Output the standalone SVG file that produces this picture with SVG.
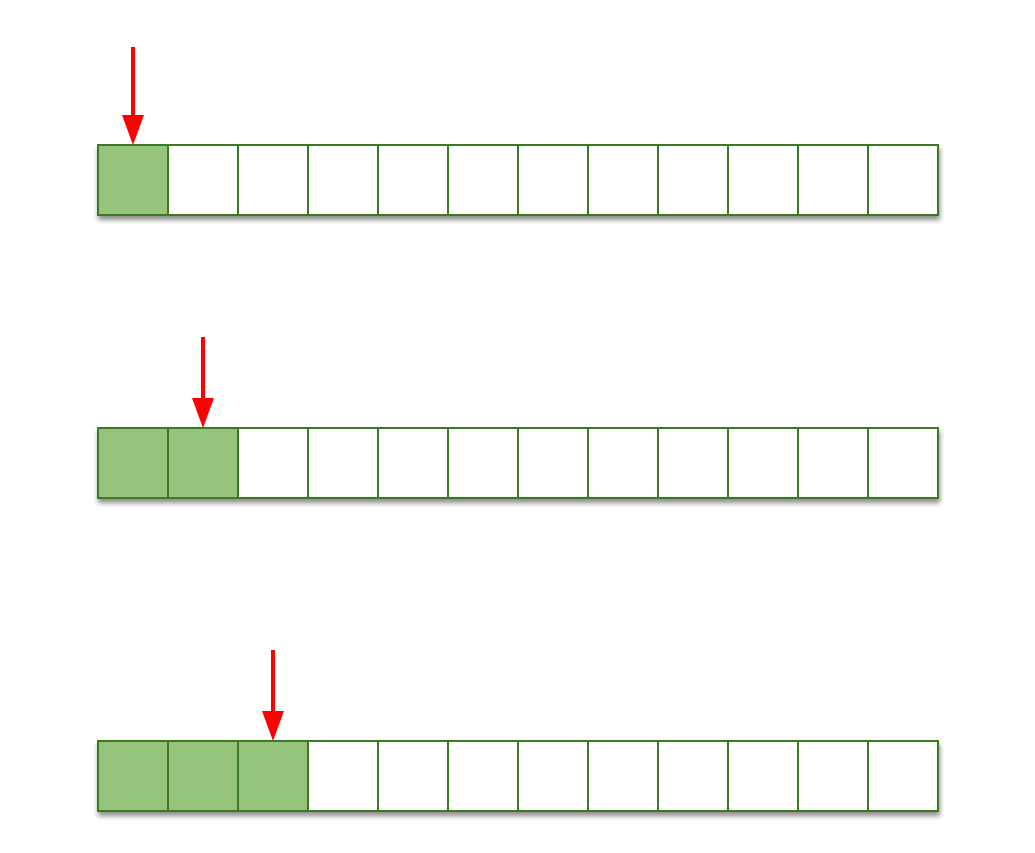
<svg xmlns="http://www.w3.org/2000/svg" width="1035" height="853" viewBox="0 0 1035 853">
<defs>
<filter id="sh" x="-20%" y="-20%" width="140%" height="150%">
<feGaussianBlur in="SourceAlpha" stdDeviation="2.5"/>
<feOffset dx="1" dy="4" result="b"/>
<feComponentTransfer><feFuncA type="linear" slope="0.45"/></feComponentTransfer>
<feMerge><feMergeNode/><feMergeNode in="SourceGraphic"/></feMerge>
</filter>
<marker id="ah" markerWidth="30" markerHeight="22" refX="0" refY="11" orient="auto" markerUnits="userSpaceOnUse" viewBox="0 0 30 22">
<path d="M0,0 L30,11 L0,22 Z" fill="#ff0000"/>
</marker>
</defs>
<style>
.e{fill:#ffffff;stroke:#3a7a22;stroke-width:2}
.f{fill:#96c47d;stroke:#3a7a22;stroke-width:2}
.a{stroke:#ff0000;stroke-width:4;fill:none}
</style>
<rect width="1035" height="853" fill="#ffffff"/>
<g id="row1" filter="url(#sh)">
<rect class="f" x="98" y="145" width="70" height="70"/>
<rect class="e" x="168" y="145" width="70" height="70"/>
<rect class="e" x="238" y="145" width="70" height="70"/>
<rect class="e" x="308" y="145" width="70" height="70"/>
<rect class="e" x="378" y="145" width="70" height="70"/>
<rect class="e" x="448" y="145" width="70" height="70"/>
<rect class="e" x="518" y="145" width="70" height="70"/>
<rect class="e" x="588" y="145" width="70" height="70"/>
<rect class="e" x="658" y="145" width="70" height="70"/>
<rect class="e" x="728" y="145" width="70" height="70"/>
<rect class="e" x="798" y="145" width="70" height="70"/>
<rect class="e" x="868" y="145" width="70" height="70"/>
</g>
<g id="row2" filter="url(#sh)">
<rect class="f" x="98" y="428" width="70" height="70"/>
<rect class="f" x="168" y="428" width="70" height="70"/>
<rect class="e" x="238" y="428" width="70" height="70"/>
<rect class="e" x="308" y="428" width="70" height="70"/>
<rect class="e" x="378" y="428" width="70" height="70"/>
<rect class="e" x="448" y="428" width="70" height="70"/>
<rect class="e" x="518" y="428" width="70" height="70"/>
<rect class="e" x="588" y="428" width="70" height="70"/>
<rect class="e" x="658" y="428" width="70" height="70"/>
<rect class="e" x="728" y="428" width="70" height="70"/>
<rect class="e" x="798" y="428" width="70" height="70"/>
<rect class="e" x="868" y="428" width="70" height="70"/>
</g>
<g id="row3" filter="url(#sh)">
<rect class="f" x="98" y="741" width="70" height="70"/>
<rect class="f" x="168" y="741" width="70" height="70"/>
<rect class="f" x="238" y="741" width="70" height="70"/>
<rect class="e" x="308" y="741" width="70" height="70"/>
<rect class="e" x="378" y="741" width="70" height="70"/>
<rect class="e" x="448" y="741" width="70" height="70"/>
<rect class="e" x="518" y="741" width="70" height="70"/>
<rect class="e" x="588" y="741" width="70" height="70"/>
<rect class="e" x="658" y="741" width="70" height="70"/>
<rect class="e" x="728" y="741" width="70" height="70"/>
<rect class="e" x="798" y="741" width="70" height="70"/>
<rect class="e" x="868" y="741" width="70" height="70"/>
</g>
<g id="connectors">
<line class="a" x1="133" y1="47" x2="133" y2="115" marker-end="url(#ah)"/>
<line class="a" x1="203" y1="337" x2="203" y2="398" marker-end="url(#ah)"/>
<line class="a" x1="273" y1="650" x2="273" y2="711" marker-end="url(#ah)"/>
</g>
</svg>
